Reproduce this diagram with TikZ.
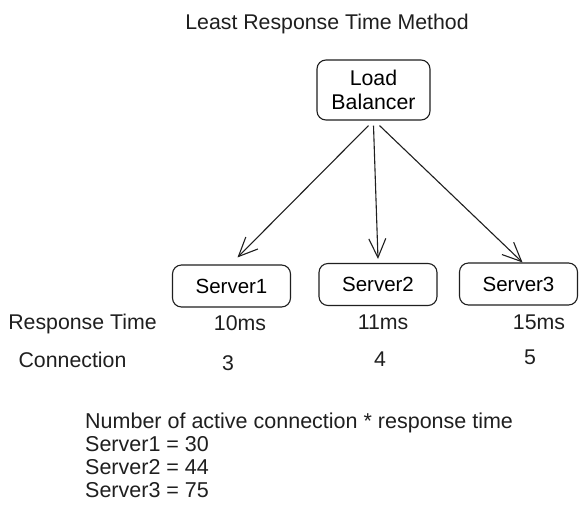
\documentclass[tikz,border=0pt]{standalone}
\usepackage{fontspec}
\setmainfont{Liberation Sans}
\usepackage{tikz}
\usetikzlibrary{arrows.meta}

\begin{document}
\begin{tikzpicture}[
  x=1pt,
  y=-1pt,
  font=\fontsize{21.3}{24}\selectfont,
  sketchbox/.style={
    draw=black!88,
    line width=1.1pt,
    rounded corners=9pt,
    inner sep=0pt,
    align=center
  },
  serverbox/.style={
    sketchbox,
    minimum width=118pt,
    minimum height=42pt
  },
  label/.style={
    text=black!88,
    anchor=base
  },
  sendarrow/.style={
    draw=black!88,
    line width=1.1pt,
    -{Straight Barb[length=19pt,width=17pt,line width=1.1pt]}
  }
]
\useasboundingbox[fill=white] (0,0) rectangle (586,517);

\node[label] (title) at (327,29) {Least Response Time Method};

\node[
  sketchbox,
  minimum width=113pt,
  minimum height=60pt
] (lb) at (373.5,90) {Load\\Balancer};

\node[serverbox,font=\fontsize{20.5}{24}\selectfont] (s1) at (231.5,286) {Server1};
\node[serverbox,font=\fontsize{20.5}{24}\selectfont] (s2) at (378,284.5) {Server2};
\node[serverbox,font=\fontsize{20.5}{24}\selectfont] (s3) at (518.5,284) {Server3};

\draw[sendarrow] ([xshift=-5pt,yshift=-5pt]lb.south) -- ([xshift=6pt,yshift=7pt]s1.north);
\draw[sendarrow] ([xshift=0pt,yshift=-5pt]lb.south) -- ([yshift=4pt]s2.north);
\draw[sendarrow] ([xshift=6pt,yshift=-5pt]lb.south) -- ([xshift=4pt,yshift=0pt]s3.north);

\node[label] (rtlabel) at (82.5,329) {Response Time};
\node[label] (rt1) at (240,330) {10ms};
\node[label] (rt2) at (383,329) {11ms};
\node[label] (rt3) at (539,329) {15ms};

\node[label] (conlabel) at (72.5,367) {Connection};
\node[label] (con1) at (228,370) {3};
\node[label] (con2) at (380,366) {4};
\node[label] (con3) at (530,364) {5};

\node[
  label,
  anchor=base west,
  align=left,
  inner sep=0pt,
  font=\fontsize{21.5}{22.8}\selectfont
] (formula) at (85,497) {Number of active connection * response time\\
Server1 = 30\\
Server2 = 44\\
Server3 = 75};
\end{tikzpicture}
\end{document}
